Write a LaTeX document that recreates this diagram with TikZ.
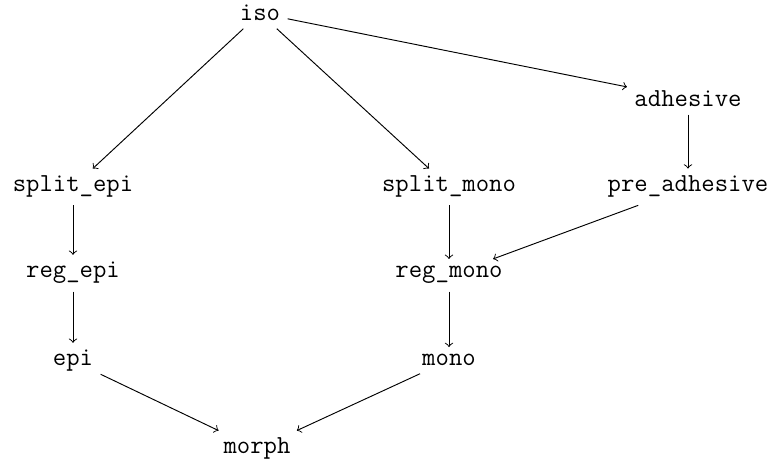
\documentclass[tikz,border=0pt]{standalone}
\begin{document}
\begin{tikzpicture}[x=0.4235pt,y=-0.4235pt,
  cls/.style={font=\fontsize{11}{13}\selectfont\ttfamily, inner sep=3pt, anchor=base},
  imp/.style={->, line width=0.4pt}]
\useasboundingbox (0,0) rectangle (774,467);
\node[cls] (iso) at (260,21) {iso};
\node[cls] (adh) at (688,107) {adhesive};
\node[cls] (sepi) at (73,192) {split\_epi};
\node[cls] (smono) at (449,192) {split\_mono};
\node[cls] (padh) at (688,192) {pre\_adhesive};
\node[cls] (repi) at (73,278) {reg\_epi};
\node[cls] (rmono) at (449,278) {reg\_mono};
\node[cls] (epi) at (73,366) {epi};
\node[cls] (mono) at (449,366) {mono};
\node[cls] (morph) at (257,454) {morph};
\draw[imp] (iso) -- (sepi);
\draw[imp] (iso) -- (smono);
\draw[imp] (iso) -- (adh);
\draw[imp] (adh) -- (padh);
\draw[imp] (sepi) -- (repi);
\draw[imp] (repi) -- (epi);
\draw[imp] (smono) -- (rmono);
\draw[imp] (padh) -- (rmono);
\draw[imp] (rmono) -- (mono);
\draw[imp] (epi) -- (morph);
\draw[imp] (mono) -- (morph);
\end{tikzpicture}
\end{document}
